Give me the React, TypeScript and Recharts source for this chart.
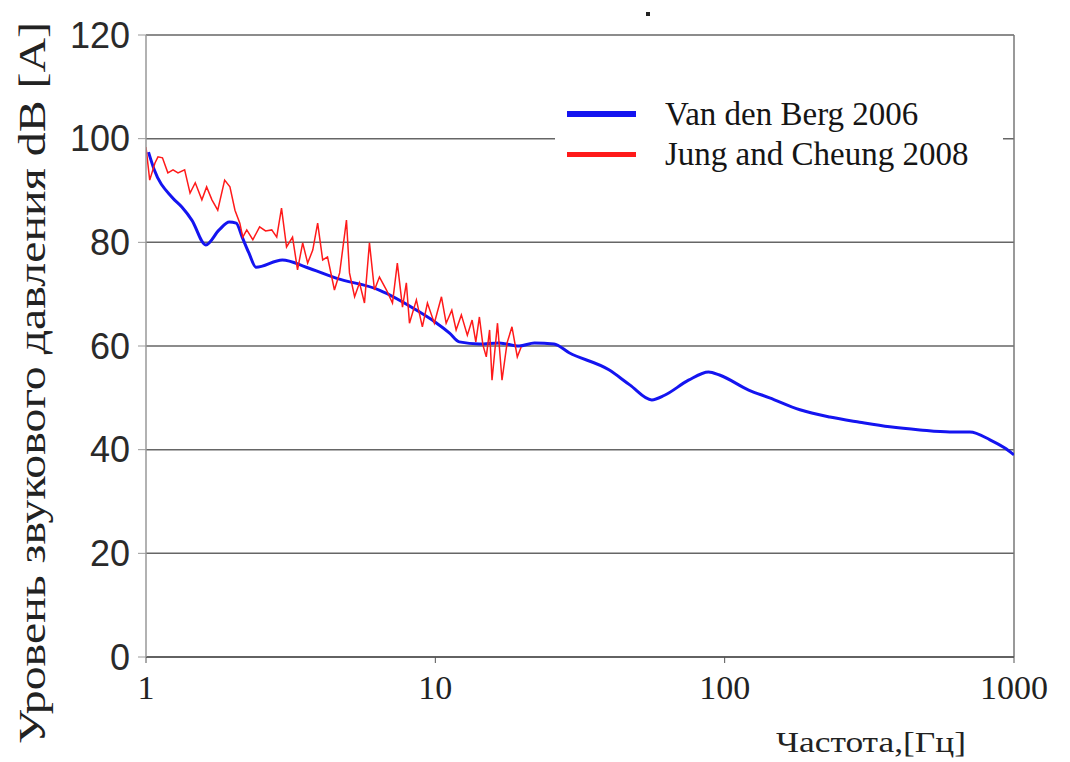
import React from 'react';
import { LineChart, Line, XAxis, YAxis, CartesianGrid, Legend, Label, ReferenceLine } from 'recharts';

// Van den Berg 2006 (smooth curve)
const vdbFreq = [1.02, 1.066, 1.23, 1.33, 1.44, 1.61, 1.79, 1.94, 2.05, 2.15, 2.27, 2.4, 2.96, 3.58, 4.54, 6.4, 8.8, 10, 11.2, 12.1, 14.2, 16.6, 19.5, 22, 25.7, 29, 39.8, 47, 56, 62, 75, 88, 96, 121, 143, 182, 231, 293, 372, 473, 600, 704, 826, 930, 1000];
const vdbLevel = [97.4, 94.1, 88.7, 86.8, 84.3, 79.5, 82.4, 83.9, 83.7, 81, 77.9, 75.2, 76.6, 75.2, 73.1, 70.8, 66.6, 64.6, 62.5, 60.8, 60.4, 60.6, 60.0, 60.6, 60.4, 58.7, 55.4, 52.5, 49.6, 50.5, 53.4, 55, 54.4, 51.5, 50, 47.7, 46.3, 45.3, 44.4, 43.8, 43.4, 43.4, 41.9, 40.3, 39];

// Jung and Cheung 2008 (noisy measurement)
const jcFreq = [1.0, 1.03, 1.074, 1.1, 1.14, 1.19, 1.24, 1.29, 1.36, 1.42, 1.48, 1.56, 1.62, 1.69, 1.77, 1.87, 1.95, 2.03, 2.11, 2.16, 2.23, 2.34, 2.47, 2.59, 2.72, 2.83, 2.94, 3.06, 3.21, 3.34, 3.48, 3.62, 3.77, 3.92, 4.08, 4.24, 4.48, 4.67, 4.93, 5.05, 5.26, 5.47, 5.69, 5.92, 6.16, 6.41, 6.78, 7.11, 7.39, 7.7, 7.94, 8.14, 8.6, 9.02, 9.39, 9.92, 10.5, 10.9, 11.4, 11.8, 12.3, 12.9, 13.4, 13.8, 14.2, 14.6, 15.0, 15.4, 15.7, 16.4, 17.0, 17.7, 18.4, 19.2, 19.8];
const jcLevel = [98.4, 92.0, 95.3, 96.5, 96.3, 93.4, 94.0, 93.4, 94.0, 89.5, 91.5, 88.2, 90.7, 88.2, 86.2, 92.0, 90.7, 86.2, 83.7, 81.0, 82.4, 80.5, 83.0, 82.2, 82.4, 81.0, 86.6, 79.1, 81.0, 74.7, 79.9, 76.0, 78.5, 83.7, 76.6, 77.2, 70.8, 74.1, 84.3, 74.1, 69.5, 72.2, 68.3, 79.9, 70.8, 73.3, 70.8, 68.3, 76.0, 67.5, 72.2, 64.4, 68.9, 63.7, 68.3, 64.4, 69.5, 64.4, 66.9, 63.1, 66.0, 62.1, 65.0, 60.8, 65.6, 60.2, 57.9, 63.1, 53.4, 64.4, 53.4, 60.6, 63.7, 57.9, 59.8];

const seriesNames = ['Van den Berg 2006', 'Jung and Cheung 2008'];
const xTicks = [1, 10, 100, 1000];
const yTicks = [0, 20, 40, 60, 80, 100, 120];

const vdbData = vdbFreq.map((f, i) => ({ f, db: vdbLevel[i] }));
const jcData = jcFreq.map((f, i) => ({ f, db: jcLevel[i] }));

const serif = '"Liberation Serif", "Times New Roman", serif';
const sans = '"Liberation Sans", Arial, sans-serif';

const LegendBox = ({ payload }: any) => {
  const items = [...(payload || [])].sort((a: any, b: any) => seriesNames.indexOf(a.value) - seriesNames.indexOf(b.value));
  return (
    <div style={{ background: '#fff', padding: '6px 0 10px 12px', width: 436 }}>
      {items.map((p: any, i: number) => (
        <div key={p.value} style={{ display: 'flex', alignItems: 'center', height: 40 }}>
          <span style={{ display: 'inline-block', width: 69, height: i === 0 ? 6 : 5, background: p.color, marginRight: 29 }} />
          <span style={{ fontFamily: serif, fontSize: 33, color: '#151515', lineHeight: '40px' }}>{p.value}</span>
        </div>
      ))}
    </div>
  );
};

const YLabel = ({ viewBox }: any) => {
  const x = viewBox.x + 32;
  const y = viewBox.y + viewBox.height / 2 + 37;
  return (
    <text x={x} y={y} transform={`rotate(-90 ${x} ${y})`} textAnchor="middle" dominantBaseline="central"
      fontFamily={serif} fontSize={38} fill="#222" textLength={722} lengthAdjust="spacingAndGlyphs">
      Уровень звукового давления  dB [A]
    </text>
  );
};

const XLabel = ({ viewBox }: any) => {
  const xr = viewBox.x + viewBox.width - 48;
  return (
    <text x={xr - 190} y={752} fontFamily={serif} fontSize={30} fill="#222" textLength={190} lengthAdjust="spacingAndGlyphs">
      Частота,[Гц]
    </text>
  );
};

export default function App() {
  return (
    <div style={{ position: 'absolute', left: 0, top: 0, background: '#fff' }}>
      <LineChart width={1070} height={762} margin={{ top: 35, right: 56, left: 0, bottom: 0 }}>
        <CartesianGrid vertical={false} stroke="#666" strokeWidth={1.5} />
        <XAxis dataKey="f" type="number" scale="log" domain={[1, 1000]} ticks={xTicks} allowDataOverflow
          height={105} tickSize={6} tickMargin={12} axisLine={{ stroke: '#555', strokeWidth: 1.5 }}
          tickLine={{ stroke: '#555' }} tick={{ fontFamily: serif, fontSize: 34, fill: '#222' }}>
          <Label content={<XLabel />} />
        </XAxis>
        <YAxis dataKey="db" type="number" domain={[0, 120]} ticks={yTicks} width={146} tickSize={8} tickMargin={8}
          axisLine={{ stroke: '#999', strokeWidth: 1.5 }} tickLine={{ stroke: '#999' }}
          tick={{ fontFamily: sans, fontSize: 36, fill: '#2a2a2a' }}>
          <Label content={<YLabel />} />
        </YAxis>
        <ReferenceLine x={1000} stroke="#777" strokeWidth={1.5} />
        <Legend layout="vertical" align="center" verticalAlign="middle" content={<LegendBox />}
          wrapperStyle={{ left: 555, top: 88, width: 448 }} />
        <Line data={vdbData} dataKey="db" name={seriesNames[0]} type="monotone" stroke="#1414f0" strokeWidth={3}
          dot={false} isAnimationActive={false} />
        <Line data={jcData} dataKey="db" name={seriesNames[1]} type="linear" stroke="#ff1a1a" strokeWidth={1.5}
          dot={false} isAnimationActive={false} />
      </LineChart>
      <div style={{ position: 'absolute', left: 646, top: 12, width: 4, height: 4, background: '#222' }} />
    </div>
  );
}
